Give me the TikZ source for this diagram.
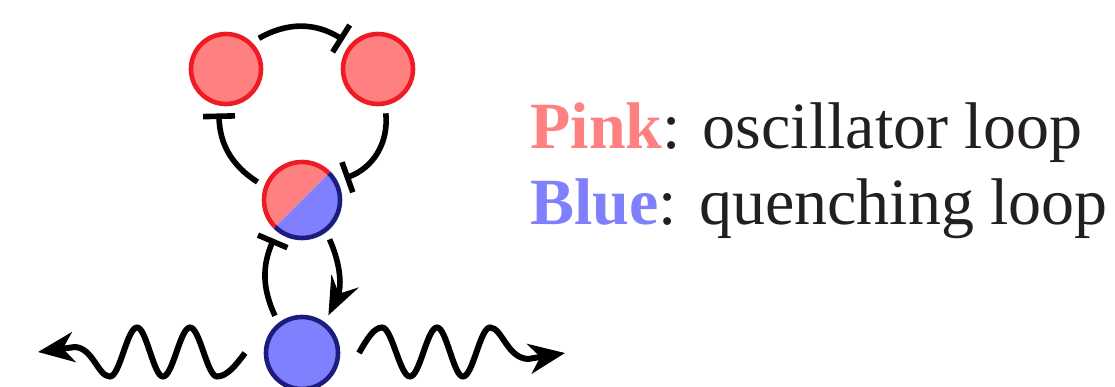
\documentclass[tikz,border=0pt]{standalone}
\usepackage{fontspec}
\setmainfont{Liberation Serif}
\usepackage{xcolor}
\usetikzlibrary{arrows.meta}

\definecolor{pinkfill}{HTML}{FF8080}
\definecolor{redline}{HTML}{ED1C24}
\definecolor{bluefill}{HTML}{8080FF}
\definecolor{navyline}{HTML}{1C1C7C}
\definecolor{darktext}{HTML}{231F20}

\begin{document}
\begin{tikzpicture}[x=0.5pt, y=0.5pt,
  pinknode/.style={circle, fill=pinkfill, draw=redline, line width=2.3pt, minimum size=35pt, inner sep=0pt, outer sep=5pt},
  bluenode/.style={circle, fill=bluefill, draw=navyline, line width=2.3pt, minimum size=36pt, inner sep=0pt, outer sep=5pt},
  link/.style={line width=2.8pt},
  wave/.style={line width=3pt, -{Stealth[length=18pt, width=15pt, inset=5.5pt]}},
  legend/.style={anchor=base west, inner sep=0pt, text=darktext, font=\fontsize{33pt}{40pt}\selectfont}]
  \useasboundingbox (0,0) rectangle (1115,386);

  \node[pinknode] (v1) at (226,317) {};
  \node[pinknode] (v2) at (378,317) {};
  \node[circle, minimum size=38pt, inner sep=0pt, outer sep=5pt] (v3) at (302,186) {};
  \node[bluenode] (v4) at (302,33) {};

  \fill[pinkfill] (v3.center) ++(45:19pt) arc[start angle=45, end angle=225, radius=19pt] -- cycle;
  \fill[bluefill] (v3.center) ++(225:19pt) arc[start angle=225, end angle=405, radius=19pt] -- cycle;
  \draw[redline, line width=2.3pt] (v3.center) ++(45:19pt) arc[start angle=45, end angle=225, radius=19pt];
  \draw[navyline, line width=2.3pt] (v3.center) ++(225:19pt) arc[start angle=225, end angle=405, radius=19pt];

  \draw[link, -{Bar[width=16pt]}] (v1.43)  to[bend left=31] (v2.140);
  \draw[link, -{Bar[width=16pt]}] (v2.-80) to[bend left=38] (v3.27);
  \draw[link, -{Bar[width=16pt]}] (v3.158) to[bend left=28] (v1.-99);
  \draw[link, -{Bar[width=16pt]}] (v4.126) to[bend left=24] (v3.234);
  \draw[link, -{Stealth[length=19pt, width=15pt, inset=7pt]}] (v3.-55) to[bend left=25] (v4.55);

  \coordinate (w1) at (38,34);
  \coordinate (w2) at (565,33);
  \draw[wave] ([xshift=-5.5pt]v4.180) sin (217,9.5) cos (203.5,34) sin (190,58.5) cos (176.5,34)
    sin (163,9.5) cos (150,34) sin (137,58.5) cos (123.5,34) sin (110,9.5)
    .. controls (98,9.5) and (93,38) .. (75,39) -- (w1);
  \draw[wave] ([xshift=5.5pt]v4.0) sin (382,58.5) cos (396,34) sin (410,9.5) cos (423.5,34)
    sin (437,58.5) cos (450,34) sin (463,9.5) cos (476.5,34) sin (490,58.5)
    .. controls (502,58.5) and (507,28) .. (528,27) -- (w2);

  \node[legend] (t1) at (530,237) {\textbf{\textcolor{pinkfill}{Pink}}: oscillator loop};
  \node[legend] (t2) at (530,161) {\textbf{\textcolor{bluefill}{Blue}}: quenching loop};
\end{tikzpicture}
\end{document}
